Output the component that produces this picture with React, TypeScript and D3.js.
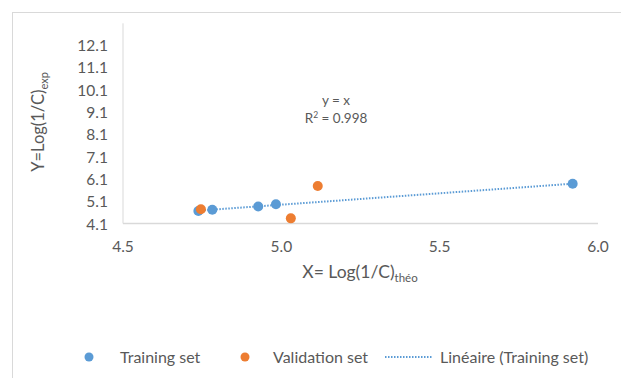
import React from "react";
import * as d3 from "d3";

const trainingX = [4.738, 4.782, 4.927, 4.983, 5.92];
const trainingY = [4.66, 4.72, 4.86, 4.96, 5.88];
const validationX = [4.746, 5.03, 5.115];
const validationY = [4.74, 4.33, 5.78];
const xTicks = [4.5, 5.0, 5.5, 6.0];
const yTicks = [4.1, 5.1, 6.1, 7.1, 8.1, 9.1, 10.1, 11.1, 12.1];
const legendLabels = ["Training set", "Validation set", "Linéaire (Training set)"];

const W = 621;
const H = 378;
const BLUE = "#5B9BD5";
const ORANGE = "#ED7D31";
const TXT = "#595959";
const GRID = "#d9d9d9";
const FONT = "Lato, 'Open Sans', sans-serif";

export default function App() {
  const x = d3.scaleLinear().domain([4.5, 6.0]).range([123, 598]);
  const y = d3.scaleLinear().domain([4.1, 13.08]).range([223.5, 23.3]);

  // linear regression on training set
  const n = trainingX.length;
  const mx = d3.mean(trainingX) as number;
  const my = d3.mean(trainingY) as number;
  let sxy = 0, sxx = 0;
  for (let i = 0; i < n; i++) {
    sxy += (trainingX[i] - mx) * (trainingY[i] - my);
    sxx += (trainingX[i] - mx) ** 2;
  }
  const slope = sxy / sxx;
  const icpt = my - slope * mx;
  const x0 = d3.min(trainingX) as number;
  const x1 = d3.max(trainingX) as number;
  const trend = d3.line<number>().x((d) => x(d)).y((d) => y(slope * d + icpt))([x0, x1]) as string;

  const training = trainingX.map((v, i) => [v, trainingY[i]]);
  const validation = validationX.map((v, i) => [v, validationY[i]]);

  return (
    <svg width={W} height={H} style={{ position: "absolute", left: 0, top: 0 }} fontFamily={FONT}>
      <rect x={0} y={0} width={W} height={H} fill="#fff" />
      <rect x={12.5} y={12.5} width={W + 20} height={H + 20} fill="none" stroke={GRID} strokeWidth={1} />
      {/* axes */}
      <line x1={x(4.5)} x2={x(4.5)} y1={y(13.08)} y2={y(4.1)} stroke={GRID} strokeWidth={1} />
      <line x1={x(4.5)} x2={x(6.0)} y1={y(4.1)} y2={y(4.1)} stroke={GRID} strokeWidth={1.5} />
      {yTicks.map((t) => (
        <text key={t} x={108} y={y(t) + 6} textAnchor="end" fontSize={15.5} fill={TXT}>
          {t.toFixed(1)}
        </text>
      ))}
      {xTicks.map((t) => (
        <text key={t} x={x(t)} y={252} textAnchor="middle" fontSize={15.5} fill={TXT}>
          {t.toFixed(1)}
        </text>
      ))}
      {/* axis titles */}
      <text x={360} y={278} textAnchor="middle" fontSize={17.5} fill={TXT}>
        X= Log(1/C)
        <tspan fontSize={11.5} dy={4}>théo</tspan>
      </text>
      <text transform={`translate(44,122) rotate(-90)`} textAnchor="middle" fontSize={16.5} fill={TXT}>
        Y=Log(1/C)
        <tspan fontSize={11} dy={4}>exp</tspan>
      </text>
      {/* equation */}
      <text x={336} y={105} textAnchor="middle" fontSize={13.5} fill={TXT}>y = x</text>
      <text x={336} y={123} textAnchor="middle" fontSize={13.5} fill={TXT}>
        R<tspan fontSize={8.5} dy={-5}>2</tspan>
        <tspan dy={5}> = 0.998</tspan>
      </text>
      {/* points */}
      {training.map((d, i) => (
        <circle key={"t" + i} cx={x(d[0])} cy={y(d[1])} r={5} fill={BLUE} />
      ))}
      <path d={trend} fill="none" stroke={BLUE} strokeWidth={2} strokeDasharray="1.5 1.5" />
      {validation.map((d, i) => (
        <circle key={"v" + i} cx={x(d[0])} cy={y(d[1])} r={5} fill={ORANGE} />
      ))}
      {/* legend */}
      <circle cx={89} cy={357} r={4.5} fill={BLUE} />
      <text x={120} y={363} fontSize={16} fill={TXT}>{legendLabels[0]}</text>
      <circle cx={245} cy={357} r={4.5} fill={ORANGE} />
      <text x={273} y={363} fontSize={16} fill={TXT}>{legendLabels[1]}</text>
      <line x1={385} x2={432} y1={357} y2={357} stroke={BLUE} strokeWidth={2} strokeDasharray="1.5 1.5" />
      <text x={440} y={363} fontSize={16} fill={TXT}>{legendLabels[2]}</text>
    </svg>
  );
}
